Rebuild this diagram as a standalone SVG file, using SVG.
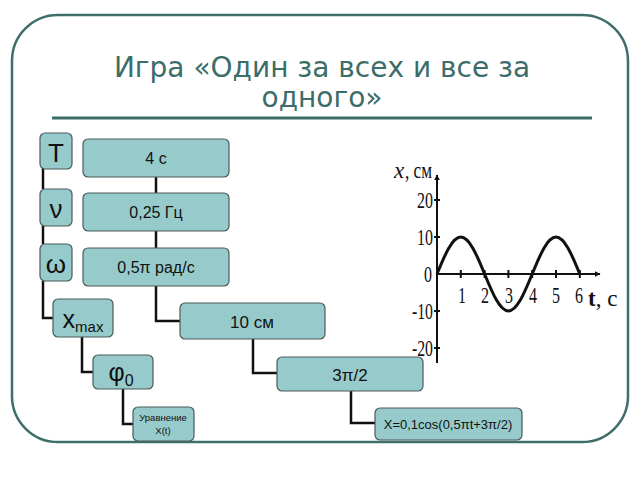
<svg xmlns="http://www.w3.org/2000/svg" width="640" height="480" viewBox="0 0 640 480">
<defs>
<style>
.frame{fill:#fff;stroke:#3f6f6b;stroke-width:2.5}
.title{font-family:"DejaVu Sans",sans-serif;font-size:28px;fill:#3c6d69;text-anchor:middle}
.box{fill:#97cbcb;stroke:#4a5a5a;stroke-width:1.2}
.t{font-family:"Liberation Sans",Arial,sans-serif;fill:#111;text-anchor:middle}
.conn{fill:none;stroke:#111;stroke-width:2.5}
.ax{fill:none;stroke:#111;stroke-width:2}
.g{font-family:"Liberation Serif","Times New Roman",serif;font-size:23px;fill:#111}
</style>
<marker id="ah" viewBox="0 0 10 10" refX="9" refY="5" markerWidth="6" markerHeight="6" orient="auto" markerUnits="userSpaceOnUse">
<path d="M0,0 L10,5 L0,10 z" fill="#111"/>
</marker>
</defs>
<rect width="640" height="480" fill="#fff"/>
<rect class="frame" x="12" y="15" width="616" height="427" rx="46" ry="46"/>
<text class="title" x="322" y="77">Игра «Один за всех и все за</text>
<text class="title" x="322" y="107">одного»</text>
<line x1="52" y1="118" x2="592" y2="118" stroke="#3c6d69" stroke-width="3"/>

<g id="connectors">
<path class="conn" d="M43,167 V189"/>
<path class="conn" d="M43,226 V244"/>
<path class="conn" d="M43,281 V318 H53"/>
<path class="conn" d="M156,177 V193"/>
<path class="conn" d="M156,231 V248"/>
<path class="conn" d="M156,286 V321 H180"/>
<path class="conn" d="M82,337 V372 H93"/>
<path class="conn" d="M253,339 V373 H277"/>
<path class="conn" d="M123,389 V424 H133"/>
<path class="conn" d="M351,391 V423 H375"/>
</g>

<g id="node-T"><rect class="box" x="40" y="133" width="32" height="36" rx="5"/><text class="t" x="56" y="162" font-size="26">T</text></g>
<g id="node-nu"><rect class="box" x="40" y="189" width="32" height="37" rx="5"/><text class="t" x="56" y="218" font-size="26">ν</text></g>
<g id="node-omega"><rect class="box" x="40" y="244" width="32" height="37" rx="5"/><text class="t" x="56" y="273" font-size="26">ω</text></g>
<g id="node-4s"><rect class="box" x="83" y="139" width="146" height="38" rx="5"/><text class="t" x="156" y="164" font-size="16">4 с</text></g>
<g id="node-025"><rect class="box" x="83" y="193" width="146" height="38" rx="5"/><text class="t" x="156" y="218" font-size="16">0,25 Гц</text></g>
<g id="node-05pi"><rect class="box" x="83" y="248" width="146" height="38" rx="5"/><text class="t" x="156" y="273" font-size="16">0,5π рад/с</text></g>
<g id="node-xmax"><rect class="box" x="53" y="299" width="60" height="38" rx="5"/><text class="t" x="83" y="328" font-size="25">x<tspan font-size="15" dy="4">max</tspan></text></g>
<g id="node-10cm"><rect class="box" x="180" y="303" width="145" height="36" rx="5"/><text class="t" x="252" y="328" font-size="17">10 см</text></g>
<g id="node-phi0"><rect class="box" x="93" y="355" width="60" height="34" rx="5"/><text class="t" x="121" y="381" font-size="25">φ<tspan font-size="16" dy="5">0</tspan></text></g>
<g id="node-3pi2"><rect class="box" x="277" y="357" width="146" height="34" rx="5"/><text class="t" x="350" y="381" font-size="17">3π/2</text></g>
<g id="node-eq"><rect class="box" x="133" y="407" width="61" height="34" rx="5"/><text class="t" x="163" y="421" font-size="9.5">Уравнение</text><text class="t" x="163" y="434" font-size="9.5">X(t)</text></g>
<g id="node-formula"><rect class="box" x="375" y="408" width="147" height="32" rx="5"/><text class="t" x="448" y="429" font-size="13">X=0,1cos(0,5πt+3π/2)</text></g>

<g id="graph">
<line class="ax" x1="437" y1="363" x2="437" y2="175" marker-end="url(#ah)"/>
<line class="ax" x1="437" y1="274" x2="600" y2="274" marker-end="url(#ah)"/>
<path class="ax" stroke-width="1.5" d="M434,200 H440 M434,237 H440 M434,311 H440 M434,348 H440 M460.8,270 V278 M484.6,270 V278 M508.4,270 V278 M532.2,270 V278 M556,270 V278 M579.8,270 V278"/>
<path fill="none" stroke="#111" stroke-width="3" d="M437,274 C444.76,255.05 452.19,237 460.8,237 S476.84,255.05 484.6,274 S499.79,311 508.4,311 S524.44,292.95 532.2,274 S547.39,237 556,237 S572.04,255.05 579.8,274"/>
<text class="g" x="433" y="208" text-anchor="end" textLength="16" lengthAdjust="spacingAndGlyphs">20</text>
<text class="g" x="433" y="245" text-anchor="end" textLength="16" lengthAdjust="spacingAndGlyphs">10</text>
<text class="g" x="432" y="282" text-anchor="end" textLength="8" lengthAdjust="spacingAndGlyphs">0</text>
<text class="g" x="433" y="319" text-anchor="end" textLength="21" lengthAdjust="spacingAndGlyphs">-10</text>
<text class="g" x="433" y="356" text-anchor="end" textLength="21" lengthAdjust="spacingAndGlyphs">-20</text>
<text class="g" x="458" y="303" textLength="8" lengthAdjust="spacingAndGlyphs">1</text>
<text class="g" x="481" y="303" textLength="8" lengthAdjust="spacingAndGlyphs">2</text>
<text class="g" x="505" y="303" textLength="8" lengthAdjust="spacingAndGlyphs">3</text>
<text class="g" x="529" y="303" textLength="8" lengthAdjust="spacingAndGlyphs">4</text>
<text class="g" x="552" y="303" textLength="8" lengthAdjust="spacingAndGlyphs">5</text>
<text class="g" x="575" y="303" textLength="8" lengthAdjust="spacingAndGlyphs">6</text>
<text class="g" x="588" y="306" font-size="24"><tspan font-weight="bold">t</tspan>, с</text>
<text class="g" x="394" y="178" font-style="italic" font-size="22">x</text>
<text class="g" x="405" y="178" font-size="22" textLength="27" lengthAdjust="spacingAndGlyphs">, см</text>
</g>
</svg>
